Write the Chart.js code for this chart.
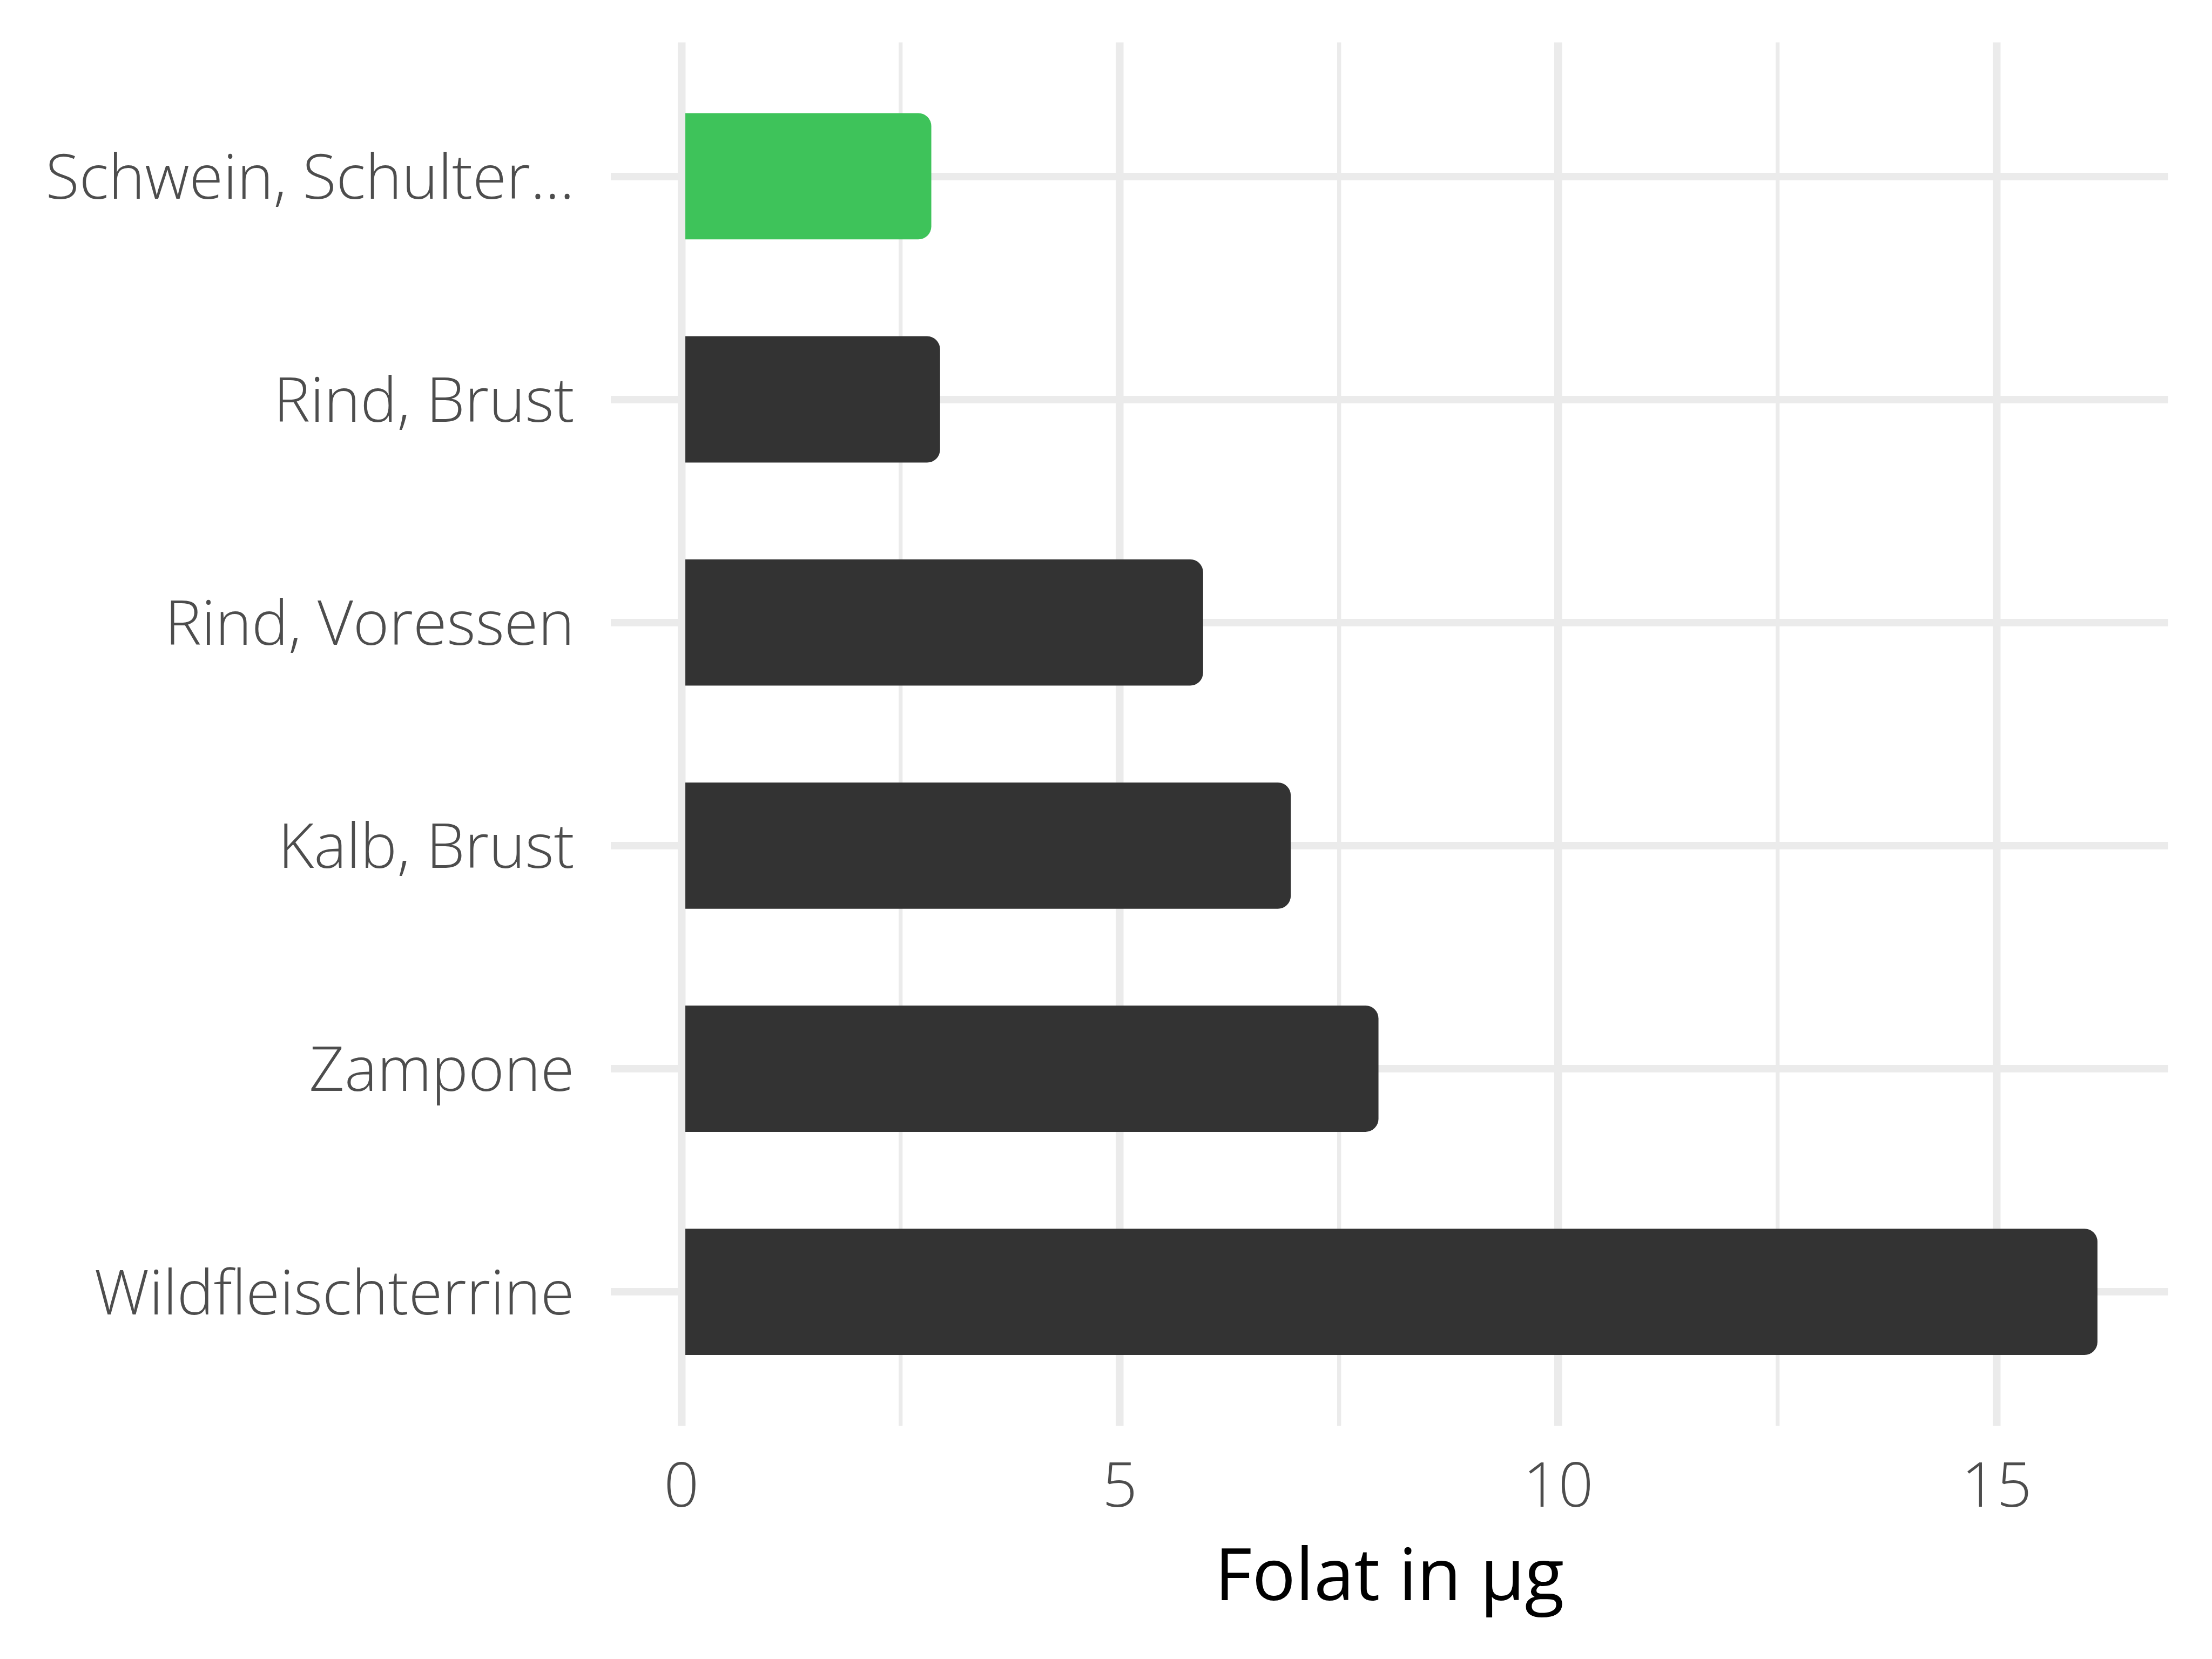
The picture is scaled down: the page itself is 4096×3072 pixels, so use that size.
<!DOCTYPE html>
<html><head><meta charset="utf-8">
<script src="https://cdn.jsdelivr.net/npm/chart.js@4.4.1/dist/chart.umd.min.js"></script>
<style>html,body{margin:0;padding:0;background:#ffffff;}canvas{display:block;}</style>
</head><body>
<canvas id="c" width="4096" height="3072"></canvas>
<script>
const categories = ['Schwein, Schulter...', 'Rind, Brust', 'Rind, Voressen', 'Kalb, Brust', 'Zampone', 'Wildfleischterrine'];
const values = [2.85, 2.95, 5.95, 6.95, 7.95, 16.15];
const barColors = ['#3EC35A', '#333333', '#333333', '#333333', '#333333', '#333333'];
const majorTicks = [0, 5, 10, 15];
const minorTicks = [2.5, 7.5, 12.5];
const xTitle = 'Folat in µg';

const FONT = "'Open Sans', Lato, sans-serif";
const vmax = Math.max(...values);
const points = categories.map((c, i) => ({ x: values[i], y: i }));
const allXTicks = [...majorTicks, ...minorTicks].sort((a, b) => a - b);

function zeroPad(s) { s.paddingTop = 0; s.paddingBottom = 0; s.paddingLeft = 0; s.paddingRight = 0; }

new Chart(document.getElementById('c'), {
  type: 'bar',
  data: {
    datasets: [{
      data: points,
      backgroundColor: barColors,
      borderWidth: 0,
      borderRadius: 24,
      borderSkipped: 'start',
      barPercentage: 0.566,
      categoryPercentage: 1.0
    }]
  },
  options: {
    indexAxis: 'y',
    responsive: false,
    animation: false,
    devicePixelRatio: 1,
    layout: { padding: { top: 78.5, right: 81, bottom: 0, left: 0 } },
    plugins: { legend: { display: false }, tooltip: { enabled: false } },
    scales: {
      x: {
        type: 'linear',
        position: 'bottom',
        min: -0.05 * vmax,
        max: 1.05 * vmax,
        afterBuildTicks: (s) => { s.ticks = allXTicks.map(v => ({ value: v })); },
        afterFit: (s) => { s.height = 432; zeroPad(s); },
        grid: {
          color: '#EBEBEB',
          drawTicks: false,
          offset: false,
          lineWidth: (ctx) => (ctx.tick && majorTicks.includes(ctx.tick.value)) ? 14.5 : 7.3
        },
        border: { display: false },
        ticks: {
          autoSkip: false,
          maxRotation: 0,
          padding: 49,
          color: '#4D4D4D',
          font: { family: FONT, size: 114, weight: 300 },
          callback: (v) => majorTicks.includes(v) ? String(v) : ''
        },
        title: {
          display: true,
          text: xTitle,
          color: '#000000',
          font: { family: FONT, size: 134, weight: 400 },
          padding: { top: 0, bottom: 67 }
        }
      },
      y: {
        type: 'linear',
        reverse: true,
        offset: false,
        min: -0.6,
        max: categories.length - 1 + 0.6,
        afterBuildTicks: (s) => { s.ticks = categories.map((c, i) => ({ value: i })); },
        afterFit: (s) => { s.width = 1130.7; zeroPad(s); },
        grid: { color: '#EBEBEB', drawTicks: false, offset: false, lineWidth: 13.7 },
        border: { display: false },
        ticks: {
          autoSkip: false,
          padding: 67,
          labelOffset: 9,
          color: '#4D4D4D',
          font: { family: FONT, size: 114, weight: 300 },
          callback: (v) => categories[v]
        }
      }
    }
  }
});
</script>
</body></html>
